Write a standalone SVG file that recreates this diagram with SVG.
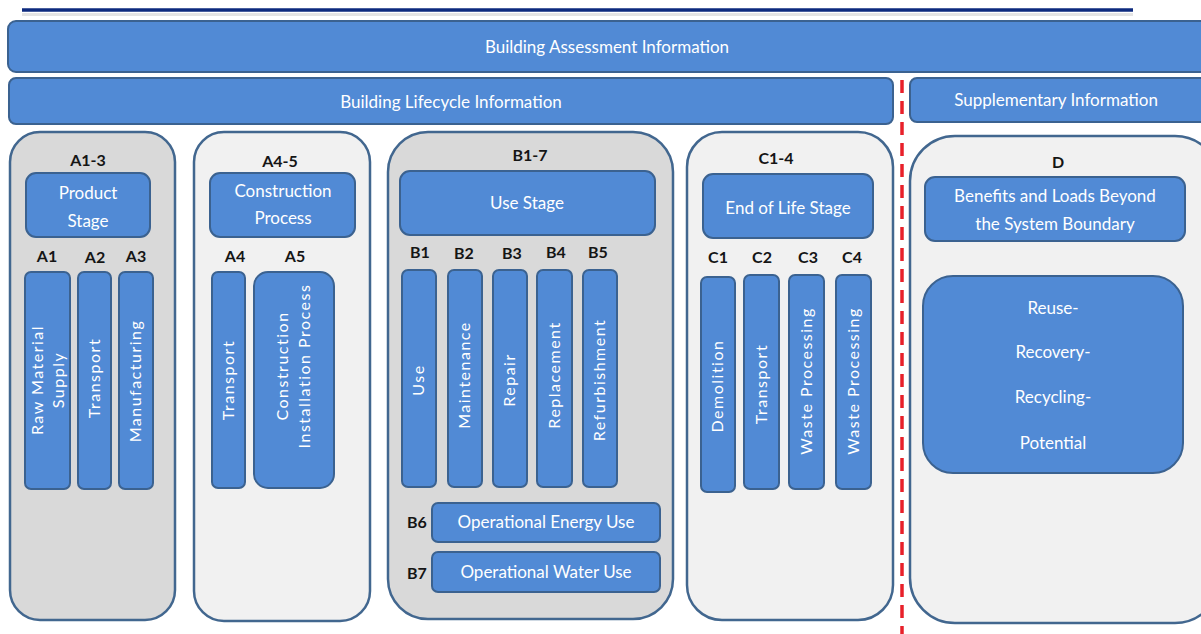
<svg xmlns="http://www.w3.org/2000/svg" width="1201" height="634" viewBox="0 0 1201 634">
<style>
.bar{fill:#518ad5;stroke:#3b6290;stroke-width:2}
.cg{fill:#d9d9d9;stroke:#42678f;stroke-width:2.5}
.cl{fill:#f1f1f1;stroke:#42678f;stroke-width:2.5}
.wt{font-family:Lato,"Liberation Sans",sans-serif;fill:#fff;font-size:17px;text-anchor:middle}
.vt{font-family:Lato,"Liberation Sans",sans-serif;fill:#fff;font-size:16px;letter-spacing:1.5px;text-anchor:middle}
.lb{font-family:Lato,"Liberation Sans",sans-serif;fill:#151515;font-size:16px;font-weight:bold;text-anchor:middle}
</style>
<rect width="1201" height="634" fill="#fff"/>
<g id="topline">
<line x1="22" y1="14.5" x2="1133" y2="14.5" stroke="#e4e4e4" stroke-width="3"/>
<line x1="22" y1="10" x2="1133" y2="10" stroke="#0d2a7e" stroke-width="3.5"/>
</g>
<g id="assessment">
<rect class="bar" x="8" y="21" width="1205" height="51" rx="8"/>
<text class="wt" x="607" y="53">Building Assessment Information</text>
</g>
<g id="lifecycle">
<rect class="bar" x="9" y="78" width="884" height="46" rx="7"/>
<text class="wt" x="451" y="108">Building Lifecycle Information</text>
</g>
<g id="supplementary">
<rect class="bar" x="910" y="78" width="305" height="44" rx="7"/>
<text class="wt" x="1056" y="106">Supplementary Information</text>
</g>
<g id="connectors">
<line x1="902" y1="80" x2="902" y2="634" stroke="#e8202a" stroke-width="3.5" stroke-dasharray="13 8"/>
</g>
<g id="A1-3">
<rect class="cg" x="10" y="132" width="165" height="488" rx="30"/>
<text class="lb" x="88" y="166">A1-3</text>
<rect class="bar" x="26" y="173" width="124" height="64" rx="10"/>
<text class="wt" x="88" y="199">Product</text>
<text class="wt" x="88" y="227">Stage</text>
<text class="lb" x="47" y="262">A1</text>
<text class="lb" x="95" y="263">A2</text>
<text class="lb" x="136" y="262">A3</text>
<rect class="bar" x="25" y="272" width="45" height="217" rx="6"/>
<text class="vt" transform="translate(47.5,380) rotate(-90)"><tspan x="0" y="-5">Raw Material</tspan><tspan x="0" y="16">Supply</tspan></text>
<rect class="bar" x="78" y="272" width="33" height="217" rx="6"/>
<text class="vt" transform="translate(94.5,378) rotate(-90)" y="5">Transport</text>
<rect class="bar" x="119" y="272" width="34" height="217" rx="6"/>
<text class="vt" transform="translate(136,381) rotate(-90)" y="5">Manufacturing</text>
</g>
<g id="A4-5">
<rect class="cl" x="194" y="132" width="176" height="489" rx="30"/>
<text class="lb" x="280" y="167">A4-5</text>
<rect class="bar" x="210" y="173" width="145" height="64" rx="10"/>
<text class="wt" x="283" y="197">Construction</text>
<text class="wt" x="283" y="224">Process</text>
<text class="lb" x="235" y="262">A4</text>
<text class="lb" x="295" y="262">A5</text>
<rect class="bar" x="212" y="272" width="33" height="216" rx="6"/>
<text class="vt" transform="translate(228.5,380) rotate(-90)" y="5">Transport</text>
<rect class="bar" x="254" y="272" width="80" height="216" rx="14"/>
<text class="vt" transform="translate(294,366) rotate(-90)"><tspan x="0" y="-6">Construction</tspan><tspan x="0" y="16">Installation Process</tspan></text>
</g>
<g id="B1-7">
<rect class="cg" x="388" y="132" width="285" height="487" rx="40"/>
<text class="lb" x="530" y="161">B1-7</text>
<rect class="bar" x="400" y="171" width="255" height="64" rx="10"/>
<text class="wt" x="527" y="209">Use Stage</text>
<text class="lb" x="420" y="258">B1</text>
<text class="lb" x="464" y="259">B2</text>
<text class="lb" x="512" y="259">B3</text>
<text class="lb" x="556" y="258">B4</text>
<text class="lb" x="598" y="258">B5</text>
<rect class="bar" x="402" y="270" width="34" height="217" rx="6"/>
<text class="vt" transform="translate(419,380) rotate(-90)" y="5">Use</text>
<rect class="bar" x="448" y="270" width="34" height="217" rx="6"/>
<text class="vt" transform="translate(465,375) rotate(-90)" y="5">Maintenance</text>
<rect class="bar" x="493" y="270" width="34" height="217" rx="6"/>
<text class="vt" transform="translate(510,380) rotate(-90)" y="5">Repair</text>
<rect class="bar" x="537" y="270" width="35" height="217" rx="6"/>
<text class="vt" transform="translate(554.5,375) rotate(-90)" y="5">Replacement</text>
<rect class="bar" x="583" y="270" width="34" height="217" rx="6"/>
<text class="vt" transform="translate(600,380) rotate(-90)" y="5">Refurbishment</text>
<text class="lb" x="417" y="528">B6</text>
<rect class="bar" x="432" y="503" width="228" height="39" rx="6"/>
<text class="wt" x="546" y="528">Operational Energy Use</text>
<text class="lb" x="417" y="579">B7</text>
<rect class="bar" x="432" y="552" width="228" height="40" rx="6"/>
<text class="wt" x="546" y="578">Operational Water Use</text>
</g>
<g id="C1-4">
<rect class="cl" x="687" y="132" width="206" height="488" rx="35"/>
<text class="lb" x="776" y="164">C1-4</text>
<rect class="bar" x="703" y="174" width="170" height="64" rx="10"/>
<text class="wt" x="788" y="214">End of Life Stage</text>
<text class="lb" x="718" y="263">C1</text>
<text class="lb" x="762" y="263">C2</text>
<text class="lb" x="808" y="263">C3</text>
<text class="lb" x="852" y="263">C4</text>
<rect class="bar" x="701" y="277" width="34" height="215" rx="6"/>
<text class="vt" transform="translate(718,386) rotate(-90)" y="5">Demolition</text>
<rect class="bar" x="744" y="275" width="35" height="214" rx="6"/>
<text class="vt" transform="translate(761.5,384) rotate(-90)" y="5">Transport</text>
<rect class="bar" x="789" y="275" width="35" height="214" rx="6"/>
<text class="vt" transform="translate(806.5,381) rotate(-90)" y="5">Waste Processing</text>
<rect class="bar" x="836" y="275" width="35" height="214" rx="6"/>
<text class="vt" transform="translate(853.5,381) rotate(-90)" y="5">Waste Processing</text>
</g>
<g id="D">
<rect class="cl" x="910" y="136" width="310" height="487" rx="45"/>
<text class="lb" x="1058" y="168">D</text>
<rect class="bar" x="925" y="177" width="260" height="64" rx="10"/>
<text class="wt" x="1055" y="202">Benefits and Loads Beyond</text>
<text class="wt" x="1055" y="230">the System Boundary</text>
<rect class="bar" x="923" y="276" width="260" height="197" rx="30"/>
<text class="wt" x="1053" y="314">Reuse-</text>
<text class="wt" x="1053" y="358">Recovery-</text>
<text class="wt" x="1053" y="403">Recycling-</text>
<text class="wt" x="1053" y="449">Potential</text>
</g>
</svg>
